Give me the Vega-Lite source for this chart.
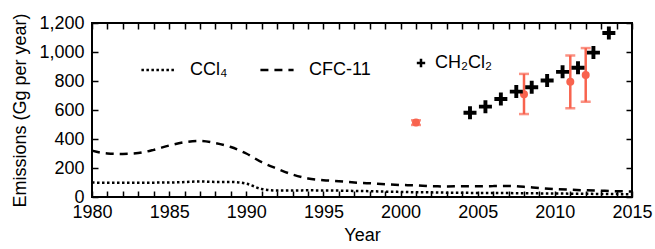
{
  "$schema": "https://vega.github.io/schema/vega-lite/v6.json",
  "width": 540,
  "height": 174,
  "autosize": {"type": "none"},
  "padding": {"left": 92, "top": 23, "right": 23, "bottom": 52},
  "config": {
    "font": "Liberation Sans",
    "view": {"stroke": "black", "strokeWidth": 2},
    "axis": {"domain": false, "grid": false, "tickColor": "black", "tickWidth": 1.5, "labelColor": "black", "titleColor": "black", "labelFontSize": 18, "titleFontSize": 18, "titleFontWeight": "normal", "labelFont": "Liberation Sans", "titleFont": "Liberation Sans"},
    "legend": {"labelFontSize": 18, "labelFont": "Liberation Sans", "labelColor": "black", "padding": 0}
  },
  "datasets": {
    "lines": [
      {"year": 1980, "value": 320, "compound": "CFC-11"},
      {"year": 1981, "value": 300, "compound": "CFC-11"},
      {"year": 1982, "value": 297, "compound": "CFC-11"},
      {"year": 1983, "value": 303, "compound": "CFC-11"},
      {"year": 1984, "value": 325, "compound": "CFC-11"},
      {"year": 1985, "value": 355, "compound": "CFC-11"},
      {"year": 1986, "value": 378, "compound": "CFC-11"},
      {"year": 1987, "value": 387, "compound": "CFC-11"},
      {"year": 1988, "value": 372, "compound": "CFC-11"},
      {"year": 1989, "value": 345, "compound": "CFC-11"},
      {"year": 1990, "value": 300, "compound": "CFC-11"},
      {"year": 1991, "value": 240, "compound": "CFC-11"},
      {"year": 1992, "value": 195, "compound": "CFC-11"},
      {"year": 1993, "value": 155, "compound": "CFC-11"},
      {"year": 1994, "value": 128, "compound": "CFC-11"},
      {"year": 1995, "value": 116, "compound": "CFC-11"},
      {"year": 1996, "value": 109, "compound": "CFC-11"},
      {"year": 1997, "value": 100, "compound": "CFC-11"},
      {"year": 1998, "value": 95, "compound": "CFC-11"},
      {"year": 1999, "value": 88, "compound": "CFC-11"},
      {"year": 2000, "value": 83, "compound": "CFC-11"},
      {"year": 2001, "value": 80, "compound": "CFC-11"},
      {"year": 2002, "value": 74, "compound": "CFC-11"},
      {"year": 2003, "value": 73, "compound": "CFC-11"},
      {"year": 2004, "value": 74, "compound": "CFC-11"},
      {"year": 2005, "value": 74, "compound": "CFC-11"},
      {"year": 2006, "value": 75, "compound": "CFC-11"},
      {"year": 2007, "value": 76, "compound": "CFC-11"},
      {"year": 2008, "value": 70, "compound": "CFC-11"},
      {"year": 2009, "value": 62, "compound": "CFC-11"},
      {"year": 2010, "value": 55, "compound": "CFC-11"},
      {"year": 2011, "value": 50, "compound": "CFC-11"},
      {"year": 2012, "value": 46, "compound": "CFC-11"},
      {"year": 2013, "value": 43, "compound": "CFC-11"},
      {"year": 2014, "value": 40, "compound": "CFC-11"},
      {"year": 2015, "value": 38, "compound": "CFC-11"},
      {"year": 1980, "value": 100, "compound": "CCl₄"},
      {"year": 1981, "value": 98, "compound": "CCl₄"},
      {"year": 1982, "value": 98, "compound": "CCl₄"},
      {"year": 1983, "value": 98, "compound": "CCl₄"},
      {"year": 1984, "value": 99, "compound": "CCl₄"},
      {"year": 1985, "value": 100, "compound": "CCl₄"},
      {"year": 1986, "value": 103, "compound": "CCl₄"},
      {"year": 1987, "value": 107, "compound": "CCl₄"},
      {"year": 1988, "value": 104, "compound": "CCl₄"},
      {"year": 1989, "value": 104, "compound": "CCl₄"},
      {"year": 1990, "value": 92, "compound": "CCl₄"},
      {"year": 1991, "value": 55, "compound": "CCl₄"},
      {"year": 1992, "value": 45, "compound": "CCl₄"},
      {"year": 1993, "value": 45, "compound": "CCl₄"},
      {"year": 1994, "value": 46, "compound": "CCl₄"},
      {"year": 1995, "value": 45, "compound": "CCl₄"},
      {"year": 1996, "value": 44, "compound": "CCl₄"},
      {"year": 1997, "value": 42, "compound": "CCl₄"},
      {"year": 1998, "value": 40, "compound": "CCl₄"},
      {"year": 1999, "value": 37, "compound": "CCl₄"},
      {"year": 2000, "value": 35, "compound": "CCl₄"},
      {"year": 2001, "value": 33, "compound": "CCl₄"},
      {"year": 2002, "value": 32, "compound": "CCl₄"},
      {"year": 2003, "value": 30, "compound": "CCl₄"},
      {"year": 2004, "value": 29, "compound": "CCl₄"},
      {"year": 2005, "value": 28, "compound": "CCl₄"},
      {"year": 2006, "value": 28, "compound": "CCl₄"},
      {"year": 2007, "value": 27, "compound": "CCl₄"},
      {"year": 2008, "value": 26, "compound": "CCl₄"},
      {"year": 2009, "value": 25, "compound": "CCl₄"},
      {"year": 2010, "value": 24, "compound": "CCl₄"},
      {"year": 2011, "value": 23, "compound": "CCl₄"},
      {"year": 2012, "value": 22, "compound": "CCl₄"},
      {"year": 2013, "value": 21, "compound": "CCl₄"},
      {"year": 2014, "value": 20, "compound": "CCl₄"},
      {"year": 2015, "value": 19, "compound": "CCl₄"}
    ],
    "ch2cl2": [
      {"year": 2004.5, "value": 581, "compound": "CH₂Cl₂"},
      {"year": 2005.5, "value": 623, "compound": "CH₂Cl₂"},
      {"year": 2006.5, "value": 676, "compound": "CH₂Cl₂"},
      {"year": 2007.5, "value": 727, "compound": "CH₂Cl₂"},
      {"year": 2008.5, "value": 757, "compound": "CH₂Cl₂"},
      {"year": 2009.5, "value": 803, "compound": "CH₂Cl₂"},
      {"year": 2010.5, "value": 863, "compound": "CH₂Cl₂"},
      {"year": 2011.5, "value": 891, "compound": "CH₂Cl₂"},
      {"year": 2012.5, "value": 996, "compound": "CH₂Cl₂"},
      {"year": 2013.5, "value": 1131, "compound": "CH₂Cl₂"}
    ],
    "obs": [
      {"year": 2001, "value": 513, "lo": 497, "hi": 529},
      {"year": 2008, "value": 709, "lo": 572, "hi": 849},
      {"year": 2011, "value": 794, "lo": 612, "hi": 976},
      {"year": 2012, "value": 842, "lo": 657, "hi": 1027}
    ]
  },
  "layer": [
    {
      "data": {"name": "lines"},
      "mark": {"type": "line", "color": "black", "strokeWidth": 2.5, "interpolate": "monotone"},
      "encoding": {
        "x": {"field": "year", "type": "quantitative", "scale": {"domain": [1980, 2015], "nice": false, "zero": false},
          "axis": {"orient": "bottom", "title": "Year", "format": "d", "values": [1980,1981,1982,1983,1984,1985,1986,1987,1988,1989,1990,1991,1992,1993,1994,1995,1996,1997,1998,1999,2000,2001,2002,2003,2004,2005,2006,2007,2008,2009,2010,2011,2012,2013,2014,2015],
            "labelExpr": "datum.value % 5 === 0 ? datum.label : ''", "tickSize": -6, "labelPadding": 12, "titlePadding": 5, "labelFlush": false,
            "encode": {"ticks": {"update": {"y2": {"signal": "datum.value % 5 === 0 ? -6 : -3"}}}}}},
        "y": {"field": "value", "type": "quantitative", "scale": {"domain": [0, 1200], "nice": false},
          "axis": {"orient": "left", "title": "Emissions (Gg per year)", "format": ",d", "values": [0,200,400,600,800,1000,1200], "tickSize": -6, "labelPadding": 14, "titlePadding": 9}},
        "strokeDash": {"field": "compound", "type": "nominal",
          "scale": {"domain": ["CCl₄", "CFC-11"], "range": [[2.5, 2.5], [8, 6]]},
          "legend": {"orient": "none", "legendX": 48, "legendY": 29, "direction": "horizontal", "title": null, "symbolType": "stroke", "symbolSize": 1100, "symbolStrokeWidth": 2.5, "symbolStrokeColor": "black", "labelOffset": 14, "columnPadding": 27}}
      }
    },
    {
      "data": {"name": "obs"},
      "mark": {"type": "rule", "color": "#f8634e", "strokeWidth": 2.5},
      "encoding": {
        "x": {"field": "year", "type": "quantitative", "scale": {"domain": [1980, 2015], "nice": false, "zero": false}, "axis": null},
        "y": {"field": "lo", "type": "quantitative", "scale": {"domain": [0, 1200], "nice": false}, "axis": null},
        "y2": {"field": "hi"}
      }
    },
    {
      "data": {"name": "obs"},
      "mark": {"type": "tick", "color": "#f8634e", "orient": "horizontal", "size": 10, "thickness": 2.5},
      "encoding": {
        "x": {"field": "year", "type": "quantitative", "scale": {"domain": [1980, 2015], "nice": false, "zero": false}, "axis": null},
        "y": {"field": "lo", "type": "quantitative", "scale": {"domain": [0, 1200], "nice": false}, "axis": null}
      }
    },
    {
      "data": {"name": "obs"},
      "mark": {"type": "tick", "color": "#f8634e", "orient": "horizontal", "size": 10, "thickness": 2.5},
      "encoding": {
        "x": {"field": "year", "type": "quantitative", "scale": {"domain": [1980, 2015], "nice": false, "zero": false}, "axis": null},
        "y": {"field": "hi", "type": "quantitative", "scale": {"domain": [0, 1200], "nice": false}, "axis": null}
      }
    },
    {
      "data": {"name": "obs"},
      "mark": {"type": "point", "shape": "circle", "filled": true, "color": "#f8634e", "opacity": 1, "size": 64},
      "encoding": {
        "x": {"field": "year", "type": "quantitative", "scale": {"domain": [1980, 2015], "nice": false, "zero": false}, "axis": null},
        "y": {"field": "value", "type": "quantitative", "scale": {"domain": [0, 1200], "nice": false}, "axis": null}
      }
    },
    {
      "data": {"name": "ch2cl2"},
      "mark": {"type": "point", "filled": true, "color": "black", "opacity": 1, "size": 169, "strokeWidth": 0},
      "encoding": {
        "x": {"field": "year", "type": "quantitative", "scale": {"domain": [1980, 2015], "nice": false, "zero": false},
          "axis": {"orient": "top", "title": null, "labels": false, "values": [1980,1981,1982,1983,1984,1985,1986,1987,1988,1989,1990,1991,1992,1993,1994,1995,1996,1997,1998,1999,2000,2001,2002,2003,2004,2005,2006,2007,2008,2009,2010,2011,2012,2013,2014,2015], "tickSize": -6,
            "encode": {"ticks": {"update": {"y2": {"signal": "datum.value % 5 === 0 ? 6 : 3"}}}}}},
        "y": {"field": "value", "type": "quantitative", "scale": {"domain": [0, 1200], "nice": false},
          "axis": {"orient": "right", "title": null, "labels": false, "values": [0,200,400,600,800,1000,1200], "tickSize": -6}},
        "shape": {"field": "compound", "type": "nominal",
          "scale": {"domain": ["CH₂Cl₂"], "range": ["M-1,-0.3H-0.3V-1H0.3V-0.3H1V0.3H0.3V1H-0.3V0.3H-1Z"]},
          "legend": {"orient": "none", "legendX": 320, "legendY": 31, "direction": "horizontal", "title": null, "symbolSize": 70, "symbolFillColor": "black", "symbolStrokeWidth": 0, "symbolOpacity": 1, "labelOffset": 5}}
      }
    }
  ],
  "resolve": {"axis": {"x": "independent", "y": "independent"}}
}
